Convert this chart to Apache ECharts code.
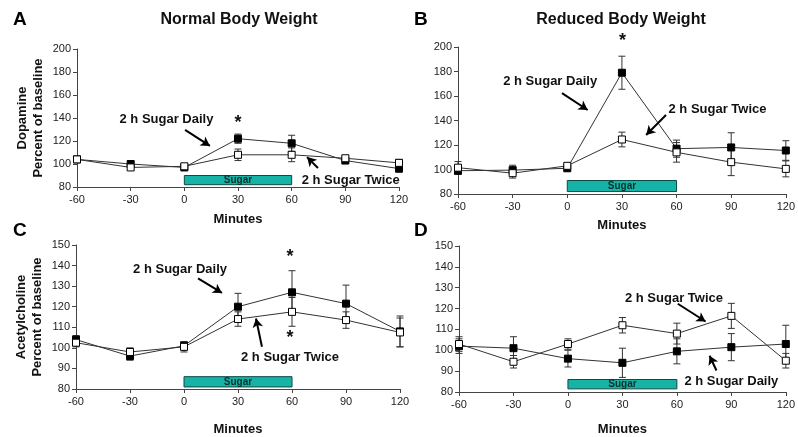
<!DOCTYPE html>
<html>
<head>
<meta charset="utf-8">
<script src="https://cdn.jsdelivr.net/npm/echarts@6/dist/echarts.min.js"></script>
<style>
  html, body { margin: 0; padding: 0; background: #fff; }
  #chart { width: 798px; height: 437px; }
</style>
</head>
<body>
<div id="chart"></div>
<script>
const minutes = [-60, -30, 0, 30, 60, 90, 120];

// panel A - dopamine, normal body weight
const dopNormalDaily = [104, 100, 97, 122, 118, 103, 96];
const dopNormalDailyErr = [2, 2, 2, 4, 7, 2, 3];
const dopNormalTwice = [104, 97, 98, 108, 108, 105, 101];
const dopNormalTwiceErr = [2, 2, 2, 5, 6, 2, 3];

// panel B - dopamine, reduced body weight
const dopReducedDaily = [99, 99.5, 101, 179, 117, 118, 115.5];
const dopReducedDailyErr = [3, 4, 2, 13.5, 7, 12, 8];
const dopReducedTwice = [101.5, 97, 103, 124.5, 114, 106, 100.5];
const dopReducedTwiceErr = [5, 4, 2, 6, 8, 11, 6.5];

// panel C - acetylcholine, normal body weight
const achNormalDaily = [104, 96, 101, 120, 127, 121.5, 108];
const achNormalDailyErr = [2, 2, 2, 6.5, 10.5, 9, 7.5];
const achNormalTwice = [102.5, 98, 100.5, 114, 117.5, 113.5, 107.5];
const achNormalTwiceErr = [2, 2, 2.5, 3.5, 7, 4, 7];

// panel D - acetylcholine, reduced body weight
const achReducedDaily = [102, 101, 96, 94, 99.5, 101.5, 103];
const achReducedDailyErr = [3.5, 5.5, 4, 7, 6, 6.5, 9];
const achReducedTwice = [103, 94.5, 103, 112, 108, 116.5, 95];
const achReducedTwiceErr = [3.5, 3, 2.5, 3.7, 5, 6, 3.5];

// sugar access window [x0, x1, y0, y1] per panel
const sugarBars = [
  [0, 60, 82, 90],
  [0, 60, 82, 91],
  [0, 60, 81, 86],
  [0, 60, 81.5, 86],
];

// text annotations: [panel, x, y, text]
const notes = [
  [0, -10, 139, "2 h Sugar Daily"],
  [0, 93, 86, "2 h Sugar Twice"],
  [0, 30, 136, "*"],
  [1, -9.4, 172, "2 h Sugar Daily"],
  [1, 82.5, 149.4, "2 h Sugar Twice"],
  [1, 30.3, 205, "*"],
  [2, -2.2, 138.1, "2 h Sugar Daily"],
  [2, 58.9, 95.2, "2 h Sugar Twice"],
  [2, 58.9, 144.3, "*"],
  [2, 58.9, 104.7, "*"],
  [3, 58.4, 125.1, "2 h Sugar Twice"],
  [3, 90, 85.2, "2 h Sugar Daily"],
];

// arrows: [panel, x1, y1, x2, y2]
const arrows = [
  [0, 0.4, 129.6, 14.3, 115.7],
  [0, 74.7, 96.5, 68.6, 106],
  [1, -2.9, 162.4, 11.2, 148.6],
  [1, 54.2, 144.5, 43.3, 128.2],
  [2, 7.8, 133.8, 21.1, 126.7],
  [2, 43.3, 100.5, 40, 114.3],
  [3, 60.5, 122.3, 75.8, 113.8],
  [3, 81.8, 90.3, 78, 97.4],
];

const panels = [
  { daily: dopNormalDaily, dErr: dopNormalDailyErr, twice: dopNormalTwice, tErr: dopNormalTwiceErr },
  { daily: dopReducedDaily, dErr: dopReducedDailyErr, twice: dopReducedTwice, tErr: dopReducedTwiceErr },
  { daily: achNormalDaily, dErr: achNormalDailyErr, twice: achNormalTwice, tErr: achNormalTwiceErr },
  { daily: achReducedDaily, dErr: achReducedDailyErr, twice: achReducedTwice, tErr: achReducedTwiceErr },
];

const font = "Liberation Sans, Arial, sans-serif";
const axisColor = "#444";

const chart = echarts.init(document.getElementById("chart"));

function errorBars(params, api) {
  const x = api.value(0);
  const lo = api.coord([x, api.value(1)]);
  const hi = api.coord([x, api.value(2)]);
  const w = 3.5;
  const style = { stroke: "#333", lineWidth: 1 };
  return {
    type: "group",
    children: [
      { type: "line", shape: { x1: lo[0], y1: lo[1], x2: hi[0], y2: hi[1] }, style: style },
      { type: "line", shape: { x1: lo[0] - w, y1: lo[1], x2: lo[0] + w, y2: lo[1] }, style: style },
      { type: "line", shape: { x1: hi[0] - w, y1: hi[1], x2: hi[0] + w, y2: hi[1] }, style: style },
    ],
  };
}

const grids = [
  { left: 77, top: 49, width: 322, height: 138 },
  { left: 458, top: 47, width: 331, height: 147 },
  { left: 76, top: 245, width: 324, height: 147 },
  { left: 459, top: 246, width: 330, height: 149 },
];
const xNameGaps = [26, 25, 34, 31];
const yNames = ["Dopamine\nPercent of baseline", "", "Acetylcholine\nPercent of baseline", ""];
const yRanges = [[80, 200, 20], [80, 200, 20], [80, 150, 10], [80, 150, 10]];

const xAxes = grids.map((g, i) => ({
  type: "value",
  gridIndex: i,
  min: -60,
  max: 120,
  interval: 30,
  name: "Minutes",
  nameLocation: "middle",
  nameGap: xNameGaps[i],
  nameTextStyle: { fontFamily: font, fontWeight: "bold", fontSize: 13, color: "#111" },
  axisLine: { onZero: false, lineStyle: { color: axisColor } },
  axisTick: { length: 4, lineStyle: { color: axisColor } },
  axisLabel: { fontFamily: font, fontSize: 11, color: "#222", margin: 7 },
  splitLine: { show: false },
}));

const yAxes = grids.map((g, i) => ({
  type: "value",
  gridIndex: i,
  min: yRanges[i][0],
  max: yRanges[i][1],
  interval: yRanges[i][2],
  name: yNames[i],
  nameLocation: "middle",
  nameRotate: 90,
  nameGap: 31,
  nameTextStyle: { fontFamily: font, fontWeight: "bold", fontSize: 13, lineHeight: 16, color: "#111" },
  axisLine: { show: true, onZero: false, lineStyle: { color: axisColor } },
  axisTick: { show: true, length: 4, lineStyle: { color: axisColor } },
  axisLabel: { fontFamily: font, fontSize: 11, color: "#222", margin: 6 },
  splitLine: { show: false },
}));

const series = [];
panels.forEach((p, i) => {
  const panelArrows = arrows.filter((a) => a[0] === i);
  const bar = sugarBars[i];
  series.push({
    type: "custom",
    xAxisIndex: i,
    yAxisIndex: i,
    renderItem: errorBars,
    data: minutes.map((m, k) => [m, p.daily[k] - p.dErr[k], p.daily[k] + p.dErr[k]]),
    z: 1,
  });
  series.push({
    type: "custom",
    xAxisIndex: i,
    yAxisIndex: i,
    renderItem: errorBars,
    data: minutes.map((m, k) => [m, p.twice[k] - p.tErr[k], p.twice[k] + p.tErr[k]]),
    z: 1,
  });
  series.push({
    name: "2 h Sugar Daily",
    type: "line",
    xAxisIndex: i,
    yAxisIndex: i,
    data: minutes.map((m, k) => [m, p.daily[k]]),
    symbol: "rect",
    symbolSize: 7,
    lineStyle: { color: "#333", width: 1 },
    itemStyle: { color: "#000", borderColor: "#000", borderWidth: 1 },
    z: 3,
    markArea: {
      silent: true,
      itemStyle: { color: "#17b3a6", borderColor: "#0c4a45", borderWidth: 1 },
      label: {
        show: true,
        position: "inside",
        formatter: "Sugar",
        fontFamily: font,
        fontWeight: "bold",
        fontSize: 10,
        color: "#0d2f2c",
      },
      data: [[{ coord: [bar[0], bar[2]] }, { coord: [bar[1], bar[3]] }]],
    },
    markLine: {
      silent: true,
      symbol: ["none", "arrow"],
      symbolSize: [8, 9],
      label: { show: false },
      lineStyle: { color: "#000", width: 2, type: "solid" },
      data: panelArrows.map((a) => [{ coord: [a[1], a[2]] }, { coord: [a[3], a[4]] }]),
    },
  });
  series.push({
    name: "2 h Sugar Twice",
    type: "line",
    xAxisIndex: i,
    yAxisIndex: i,
    data: minutes.map((m, k) => [m, p.twice[k]]),
    symbol: "rect",
    symbolSize: 7,
    lineStyle: { color: "#333", width: 1 },
    itemStyle: { color: "#fff", borderColor: "#000", borderWidth: 1 },
    z: 4,
  });
});

const option = {
  backgroundColor: "#fff",
  animation: false,
  grid: grids,
  xAxis: xAxes,
  yAxis: yAxes,
  series: series,
};

chart.setOption(option);

// panel letters, titles and the text notes placed through the axes
const graphic = [
  { type: "text", left: 13, top: 10, style: { text: "A", font: "bold 19px " + font, fill: "#000" } },
  { type: "text", left: 414, top: 10, style: { text: "B", font: "bold 19px " + font, fill: "#000" } },
  { type: "text", left: 13, top: 221, style: { text: "C", font: "bold 19px " + font, fill: "#000" } },
  { type: "text", left: 414, top: 221, style: { text: "D", font: "bold 19px " + font, fill: "#000" } },
  { type: "text", x: 239, y: 20, style: { text: "Normal Body Weight", font: "bold 16px " + font, fill: "#111", align: "center", verticalAlign: "middle" } },
  { type: "text", x: 621, y: 20, style: { text: "Reduced Body Weight", font: "bold 16px " + font, fill: "#111", align: "center", verticalAlign: "middle" } },
];
notes.forEach((n) => {
  const pt = chart.convertToPixel({ gridIndex: n[0] }, [n[1], n[2]]);
  const star = n[3] === "*";
  graphic.push({
    type: "text",
    x: pt[0],
    y: pt[1],
    z: 10,
    style: {
      text: n[3],
      font: "bold " + (star ? 18 : 13) + "px " + font,
      fill: "#111",
      align: "center",
      verticalAlign: "middle",
    },
  });
});
chart.setOption({ graphic: graphic });
</script>
</body>
</html>
